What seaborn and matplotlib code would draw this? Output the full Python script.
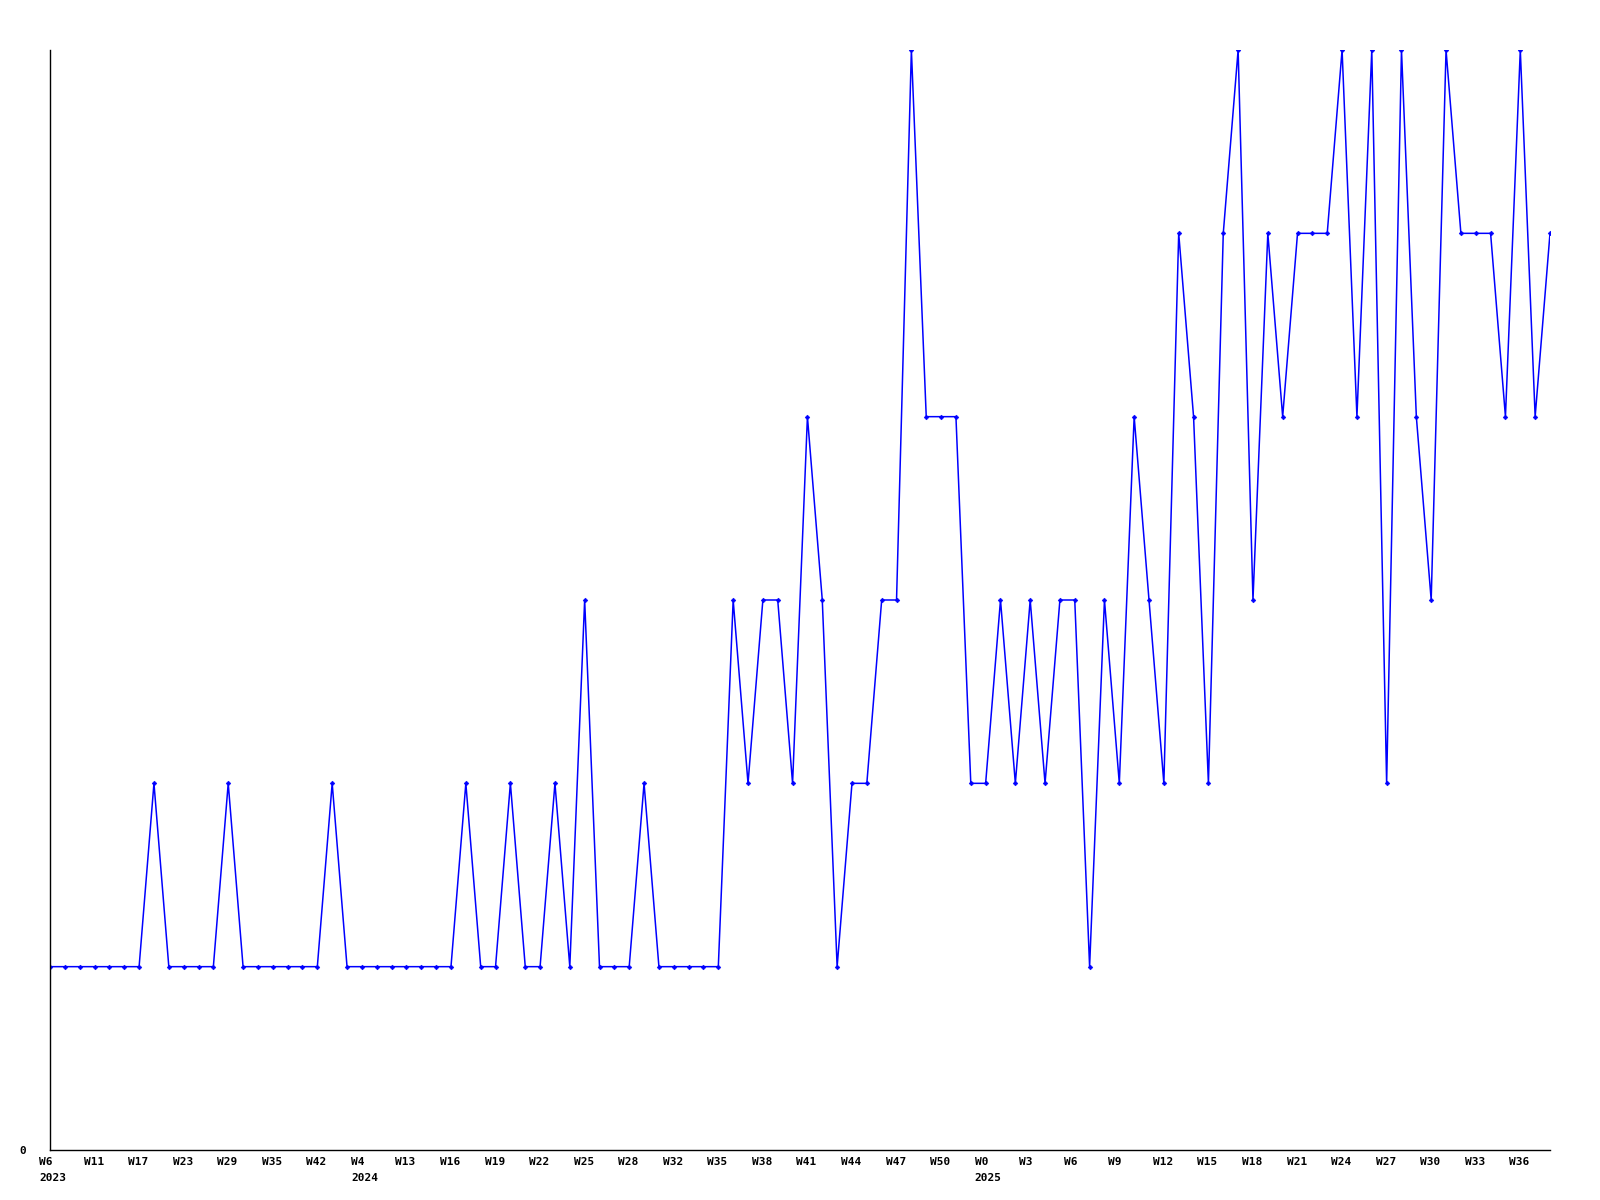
import numpy as np
import pandas as pd
import seaborn as sns
import matplotlib.pyplot as plt
import matplotlib.transforms as mtransforms

# weekly counts, one point per week
values = [1, 1, 1, 1, 1, 1, 1, 2, 1, 1, 1, 1, 2, 1, 1, 1, 1, 1, 1, 2,
          1, 1, 1, 1, 1, 1, 1, 1, 2, 1, 1, 2, 1, 1, 2, 1, 3, 1, 1, 1,
          2, 1, 1, 1, 1, 1, 3, 2, 3, 3, 2, 4, 3, 1, 2, 2, 3, 3, 6, 4,
          4, 4, 2, 2, 3, 2, 3, 2, 3, 3, 1, 3, 2, 4, 3, 2, 5, 4, 2, 5,
          6, 3, 5, 4, 5, 5, 5, 6, 4, 6, 2, 6, 4, 3, 6, 5, 5, 5, 4, 6,
          4, 5]

# one label every third point
week_labels = ['W6', 'W11', 'W17', 'W23', 'W29', 'W35', 'W42', 'W4', 'W13', 'W16',
               'W19', 'W22', 'W25', 'W28', 'W32', 'W35', 'W38', 'W41', 'W44', 'W47',
               'W50', 'W0', 'W3', 'W6', 'W9', 'W12', 'W15', 'W18', 'W21', 'W24',
               'W27', 'W30', 'W33', 'W36']
year_labels = {0: '2023', 7: '2024', 21: '2025'}

df = pd.DataFrame({'idx': np.arange(len(values)), 'count': values})

sns.set_style('white')
plt.rcParams['font.family'] = ['DejaVu Sans Mono']
plt.rcParams['text.color'] = 'black'
plt.rcParams['ytick.color'] = 'black'

fig = plt.figure(figsize=(16, 12), dpi=100)
ax = fig.add_axes([50 / 1600, 50 / 1200, 1500 / 1600, 1100 / 1200])

sns.lineplot(data=df, x='idx', y='count', ax=ax, color='#0000ff', linewidth=1.1,
             marker='D', markersize=2.4, markeredgewidth=0.4, markeredgecolor='#0000ff')

ax.set_xlim(0, len(values) - 1)
ax.set_ylim(0, 6)

# x labels: drawn as text, shifted a little left of each point
ticks = np.arange(0, len(values), 3)
ax.set_xticks([])
offset = mtransforms.ScaledTranslation(-11 / 100, 0, fig.dpi_scale_trans)
trans = ax.get_xaxis_transform() + offset
for k, w in enumerate(week_labels):
    ax.text(ticks[k], -12 / 1100, w, transform=trans, ha='left', va='center',
            fontsize=8, fontweight='bold', color='black', clip_on=False)
    if k in year_labels:
        ax.text(ticks[k], -28 / 1100, year_labels[k], transform=trans, ha='left',
                va='center', fontsize=8, fontweight='bold', color='black', clip_on=False)

ax.set_yticks([0])
ax.set_yticklabels(['0'], fontsize=8, fontweight='bold', color='black')
ax.tick_params(axis='y', length=0, pad=17)

ax.set_xlabel('')
ax.set_ylabel('')
sns.despine(ax=ax)
for s in ['left', 'bottom']:
    ax.spines[s].set_color('black')
    ax.spines[s].set_linewidth(1)

fig.savefig('out.png', dpi=100, facecolor='white')
